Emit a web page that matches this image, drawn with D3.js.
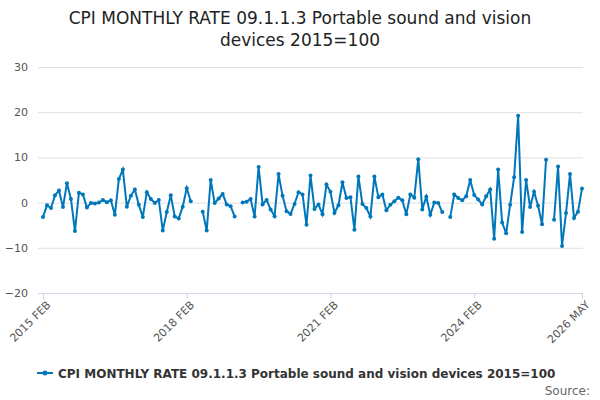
<!DOCTYPE html><html><head><meta charset="utf-8"><script src="https://cdn.jsdelivr.net/npm/d3@7"></script>
<style>body{margin:0;background:#fff}text{font-family:"DejaVu Sans",sans-serif}</style></head><body><svg id="c" width="600" height="400"></svg><script>
const title=["CPI MONTHLY RATE 09.1.1.3 Portable sound and vision","devices 2015=100"];
const seriesName="CPI MONTHLY RATE 09.1.1.3 Portable sound and vision devices 2015=100";
const values=[-3.2,-0.6,-1.2,1.6,2.7,-1.0,4.3,0.8,-6.3,2.2,
1.8,-1.1,-0.1,-0.2,0,0.6,0.1,0.5,-2.7,5.2,
7.3,-0.9,1.5,2.9,-0.5,-3.2,2.3,0.8,-0.1,0.6,
-6.2,-2.1,1.6,-3.1,-3.5,-0.9,3.2,0.3,null,null,
-2.0,-6.2,5.0,-0.1,0.9,1.9,-0.4,-0.8,-3.1,null,
0.0,0.2,0.8,-3.1,7.9,-0.4,0.6,-1.5,-3.0,6.3,
1.5,-1.9,-2.5,-0.3,2.3,1.8,-4.9,6.0,-1.4,-0.4,
-2.6,4.0,2.4,-2.3,-0.6,4.5,1.0,1.2,-6.0,5.8,
-0.3,-1.2,-3.1,5.8,1.2,1.8,-1.7,-0.5,0.3,1.1,
0.5,-2.6,1.8,1.1,9.6,-1.5,1.3,-2.7,0.0,-0.1,
-2.1,null,-3.2,1.8,1.0,0.5,1.4,5.0,1.7,0.7,
-0.4,1.4,2.9,-8.0,7.3,-4.4,-6.8,-0.5,5.6,19.2,
-6.5,5.0,-1.0,2.4,-0.7,-4.8,9.5,null,-3.8,8.0,
-9.6,-2.3,6.3,-3.4,-2.0,3.1];
const tickIdx=[0,36,72,108,135];
const tickLabels=["2015 FEB","2018 FEB","2021 FEB","2024 FEB","2026 MAY"];
const yTicks=[-20,-10,0,10,20,30];
const svg=d3.select("#c"),col="#0077bb";
svg.selectAll("text.t").data(title).join("text").attr("x",300).attr("y",(d,i)=>24+i*22)
 .attr("text-anchor","middle").attr("font-size",17).attr("fill","#222").text(d=>d);
const x=d3.scaleLinear().domain([0,135]).range([43,582]);
const y=d3.scaleLinear().domain([-20,30]).range([293,67]);
const ya=svg.append("g").attr("transform","translate(38,0)").call(d3.axisLeft(y).tickValues(yTicks).tickSize(-545).tickPadding(10));
ya.select(".domain").remove();
ya.selectAll("line").attr("stroke","#e0e0e0");
ya.selectAll("text").attr("font-size",11).attr("fill","#555");
const xa=svg.append("g").attr("transform","translate(0,293)").call(d3.axisBottom(x).tickValues(tickIdx).tickFormat((d,i)=>tickLabels[i]).tickSize(6).tickSizeOuter(0));
xa.select(".domain").attr("d","M38,0.5H583").attr("stroke","#ccd6eb");
xa.selectAll("line").attr("stroke","#ccd6eb");
xa.selectAll("text").attr("font-size",11).attr("fill","#555").attr("text-anchor","end").attr("dx","-0.3em").attr("dy","0.5em").attr("transform","rotate(-45)");
const line=d3.line().defined(d=>d!=null).x((d,i)=>x(i)).y(d=>y(d));
svg.append("path").datum(values).attr("d",line).attr("fill","none").attr("stroke",col).attr("stroke-width",2);
svg.selectAll("circle.p").data(values.map((v,i)=>[i,v]).filter(d=>d[1]!=null)).join("circle")
 .attr("cx",d=>x(d[0])).attr("cy",d=>y(d[1])).attr("r",2).attr("fill",col);
const lg=svg.append("g").attr("transform","translate(0,373)");
lg.append("line").attr("x1",37).attr("x2",53).attr("stroke",col).attr("stroke-width",2);
lg.append("circle").attr("cx",45).attr("r",2.5).attr("fill",col);
lg.append("text").attr("x",58).attr("y",4.5).attr("font-size",12).attr("font-weight","bold").attr("fill","#333").text(seriesName);
svg.append("text").attr("x",590).attr("y",395).attr("text-anchor","end").attr("font-size",12).attr("fill","#666").text("Source:");
</script></body></html>
